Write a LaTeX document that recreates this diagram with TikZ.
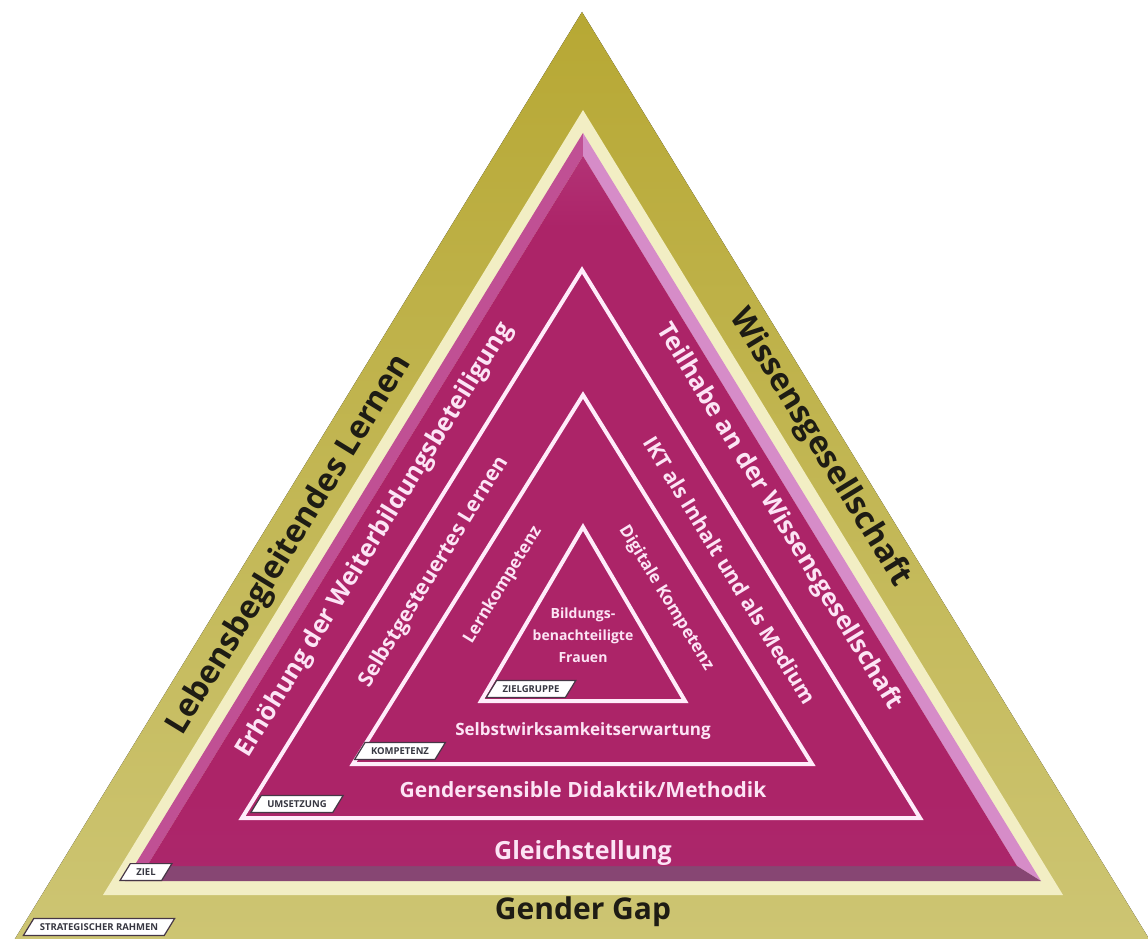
\documentclass[tikz,border=0pt]{standalone}
\usepackage{fontspec}
\setmainfont{Open Sans}
\usetikzlibrary{shapes.geometric}

\definecolor{gapolive}{RGB}{183,168,52}
\definecolor{gapolivelight}{RGB}{205,197,115}
\definecolor{gapcream}{RGB}{242,238,196}
\definecolor{zielbevel}{RGB}{214,140,200}
\definecolor{zielbevelleft}{RGB}{192,80,148}
\definecolor{zielbottom}{RGB}{135,70,115}
\definecolor{zieltop}{RGB}{212,125,190}
\definecolor{zielmid}{RGB}{172,36,104}
\definecolor{zielbot}{RGB}{168,52,122}
\definecolor{linewhite}{RGB}{255,236,250}
\definecolor{textwhite}{RGB}{252,228,245}
\definecolor{textblack}{RGB}{30,28,20}
\definecolor{tagtext}{RGB}{55,55,65}
\definecolor{tagline}{RGB}{70,55,70}

% face of the magenta triangle, light at the tip
\pgfdeclareverticalshading{zielface}{100bp}{color(0bp)=(zielbot); color(30bp)=(zielmid); color(70bp)=(zielmid); color(100bp)=(zieltop)}

\tikzset{
  rahmentext/.style={text=textblack, font=\bfseries\fontsize{30}{30}\selectfont},
  zieltext/.style={text=textwhite, font=\bfseries\fontsize{25}{25}\selectfont},
  umsetztext/.style={text=textwhite, font=\bfseries\fontsize{21}{21}\selectfont},
  kompetenztext/.style={text=textwhite, font=\bfseries\fontsize{17}{17}\selectfont},
  gruppentext/.style={text=textwhite, font=\bfseries\fontsize{14}{22}\selectfont, align=center},
  ebene/.style={draw=linewhite, line width=4pt, line join=miter},
  tag/.style={trapezium, trapezium left angle=58.5, trapezium right angle=121.5,
    fill=white, draw=tagline, line width=1.2pt,
    inner xsep=6pt, inner ysep=5pt, text=tagtext,
    font=\bfseries\fontsize{9.5}{9.5}\selectfont},
}

\begin{document}
\begin{tikzpicture}[x=1pt,y=-1pt]
\useasboundingbox (0,0) rectangle (1148,939);

% strategic frame
\fill[top color=gapolive, bottom color=gapolivelight] (582,12) -- (13,942) -- (1151,942) -- cycle;
\fill[gapcream] (583,110) -- (103,895) -- (1063,895) -- cycle;

% goal level with bevel
\fill[zielbevelleft] (583,133) -- (125,881) -- (147,866) -- (583,156) -- cycle;
\fill[zielbevel] (583,133) -- (1041,881) -- (1017,866) -- (583,156) -- cycle;
\fill[zielbottom] (125,881) -- (1041,881) -- (1017,866) -- (147,866) -- cycle;
\shade[shading=zielface] (583,156) -- (147,866) -- (1017,866) -- cycle;

% inner levels
\draw[ebene] (582,270) -- (242,818) -- (920,818) -- cycle;
\draw[ebene] (583,395) -- (353,764) -- (812,764) -- cycle;
\draw[ebene] (583,527) -- (481,701) -- (685,701) -- cycle;

\node[rahmentext] (gap) at (583,912) {Gender Gap};
\node[rahmentext, font=\bfseries\fontsize{32}{32}\selectfont, rotate=58.5] (lernen) at (290,545) {Lebensbegleitendes Lernen};
\node[rahmentext, font=\bfseries\fontsize{32}{32}\selectfont, rotate=-58.5] (wissen) at (820,448) {Wissensgesellschaft};

\node[zieltext] (gleich) at (583,853) {Gleichstellung};
\node[zieltext, rotate=58.5] (weiter) at (375,540) {Erhöhung der Weiterbildungsbeteiligung};
\node[zieltext, rotate=-58.5] (teilhabe) at (779,517) {Teilhabe an der Wissensgesellschaft};

\node[umsetztext] (didaktik) at (583,790) {Gendersensible Didaktik/Methodik};
\node[umsetztext, rotate=58.5] (selbst) at (434,572) {Selbstgesteuertes Lernen};
\node[umsetztext, rotate=-58.5] (ikt) at (730,570) {IKT als Inhalt und als Medium};

\node[kompetenztext] (wirksam) at (583,731) {Selbstwirksamkeitserwartung};
\node[kompetenztext, rotate=58.5] (lernkomp) at (503,585) {Lernkompetenz};
\node[kompetenztext, rotate=-58.5] (digital) at (666,598) {Digitale Kompetenz};

\node[gruppentext] (frauen) at (583,635) {Bildungs-\\benachteiligte\\Frauen};

% level tags
\node[tag] (tagrahmen) at (99,927) {STRATEGISCHER RAHMEN};
\node[tag] (tagziel) at (146,872) {ZIEL};
\node[tag] (tagumsetzung) at (297,804) {UMSETZUNG};
\node[tag] (tagkompetenz) at (400,751) {KOMPETENZ};
\node[tag] (tagzielgruppe) at (531,689) {ZIELGRUPPE};
\end{tikzpicture}
\end{document}
